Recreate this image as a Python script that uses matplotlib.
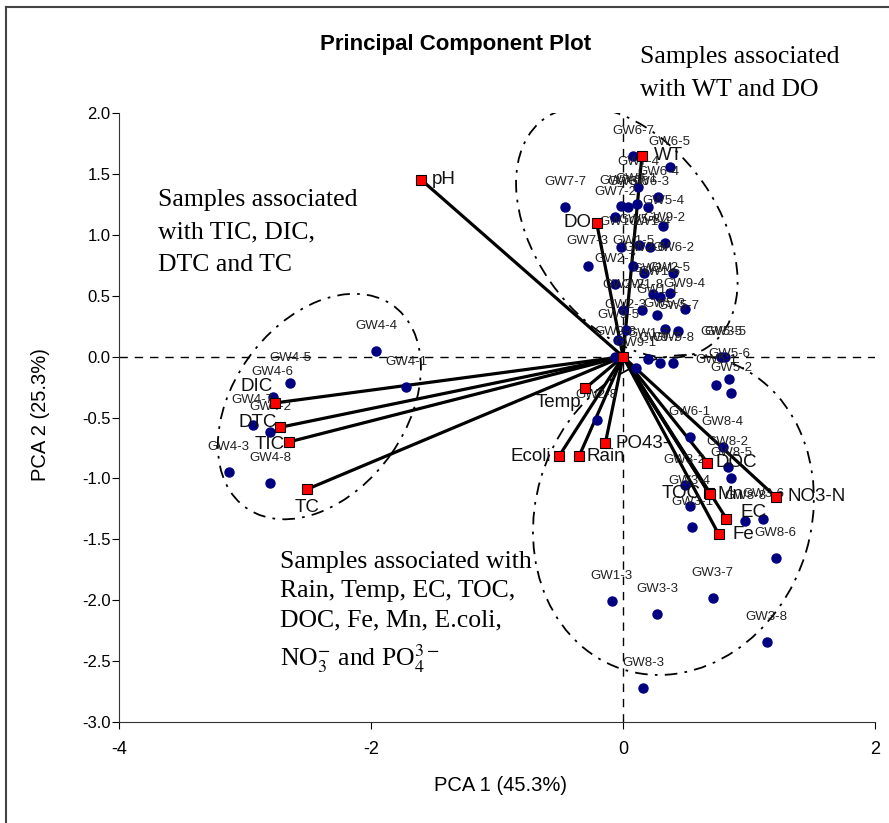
import numpy as np
import matplotlib
matplotlib.use("Agg")
import matplotlib.pyplot as plt
from matplotlib.patches import Ellipse
from matplotlib.lines import Line2D
from matplotlib.ticker import FormatStrFormatter

plt.rcParams["font.family"] = ["Liberation Sans", "DejaVu Sans"]
plt.rcParams["mathtext.fontset"] = "stix"
plt.rcParams["axes.unicode_minus"] = False

# variable loadings (PC1, PC2)
var_names = ["pH", "WT", "DO", "DIC", "DTC", "TIC", "TC", "Temp", "Ecoli",
             "Rain", "PO43-", "DOC", "TOC", "Mn", "NO3-N", "EC", "Fe"]
var_pc1 = [-1.60, 0.15, -0.21, -2.76, -2.72, -2.65, -2.51, -0.30, -0.51,
           -0.35, -0.14, 0.67, 0.68, 0.69, 1.21, 0.82, 0.76]
var_pc2 = [1.45, 1.65, 1.10, -0.38, -0.58, -0.70, -1.09, -0.26, -0.82,
           -0.82, -0.71, -0.87, -1.12, -1.13, -1.15, -1.33, -1.46]

# sample scores (PC1, PC2)
sample_names = [
    "GW4-4", "GW4-1", "GW4-5", "GW4-6", "GW4-7", "GW4-2", "GW4-3", "GW4-8",
    "GW6-7", "GW6-5", "GW7-4", "GW6-4", "GW7-7", "GW7-6", "GW6-6", "GW7-1",
    "GW6-3", "GW7-2", "GW5-4", "GW1-2", "GW5-8", "GW1-4", "GW9-2", "GW7-3",
    "GW1-5", "GW2-6", "GW6-2", "GW2-7", "GW2-1", "GW1-6", "GW2-5", "GW2-2",
    "GW1-8", "GW1-1", "GW9-4", "GW2-3", "GW5-3", "GW5-7", "GW9-5", "GW9-3",
    "GW1-7", "GW9-7", "GW9-8", "GW9-1",
    "GW5-5", "GW3-5", "GW5-6", "GW5-1", "GW5-2", "GW2-8", "GW6-1", "GW8-4",
    "GW8-2", "GW8-5", "GW3-2", "GW3-4", "GW3-1", "GW3-6", "GW8-8", "GW8-6",
    "GW1-3", "GW3-3", "GW3-7", "GW3-8", "GW8-3",
]
sample_pc1 = [
    -1.96, -1.72, -2.64, -2.78, -2.94, -2.80, -3.13, -2.80,
    0.08, 0.37, 0.12, 0.28, -0.46, -0.02, 0.04, 0.11,
    0.20, -0.06, 0.32, -0.02, 0.13, 0.21, 0.33, -0.28,
    0.08, 0.17, 0.40, -0.06, 0.24, 0.29, 0.37, 0.00,
    0.15, 0.27, 0.49, 0.02, 0.33, 0.44, -0.04, -0.06,
    0.20, 0.29, 0.40, 0.10,
    0.78, 0.81, 0.84, 0.74, 0.86, -0.21, 0.53, 0.79,
    0.83, 0.86, 0.49, 0.53, 0.55, 1.11, 0.97, 1.21,
    -0.09, 0.27, 0.71, 1.14, 0.16,
]
sample_pc2 = [
    0.05, -0.25, -0.22, -0.33, -0.56, -0.62, -0.95, -1.04,
    1.65, 1.56, 1.39, 1.31, 1.23, 1.24, 1.23, 1.25,
    1.23, 1.15, 1.07, 0.90, 0.92, 0.90, 0.93, 0.74,
    0.74, 0.69, 0.69, 0.60, 0.51, 0.49, 0.52, 0.38,
    0.38, 0.34, 0.39, 0.22, 0.23, 0.21, 0.14, 0.00,
    -0.02, -0.05, -0.05, -0.09,
    0.00, 0.00, -0.18, -0.23, -0.30, -0.52, -0.66, -0.74,
    -0.91, -1.00, -1.05, -1.23, -1.40, -1.33, -1.35, -1.65,
    -2.01, -2.11, -1.98, -2.34, -2.72,
]

# where each variable name sits relative to its square (pixels, alignment)
var_label_pos = {
    "pH": (10, 0, "left"), "WT": (12, 0, "left"), "DO": (-5, 0, "right"),
    "DIC": (-3, 16, "right"), "DTC": (-3, 5, "right"), "TIC": (-4, -3, "right"),
    "TC": (0, -18, "center"), "Temp": (-4, -14, "right"), "Ecoli": (-8, 0, "right"),
    "Rain": (8, 0, "left"), "PO43-": (10, 0, "left"), "DOC": (8, 0, "left"),
    "TOC": (-8, 0, "right"), "Mn": (8, 0, "left"), "NO3-N": (12, 0, "left"),
    "EC": (14, 6, "left"), "Fe": (14, 0, "left"),
}

fig = plt.figure(figsize=(8.89, 8.23), dpi=100)
ax = fig.add_axes([0.1339, 0.1227, 0.8504, 0.74])
ax.set_xlim(-4, 2)
ax.set_ylim(-3, 2)
ax.set_xticks([-4, -2, 0, 2])
ax.set_yticks(np.arange(-3, 2.01, 0.5))
ax.yaxis.set_major_formatter(FormatStrFormatter("%.1f"))
ax.tick_params(axis="x", labelsize=13, length=5, pad=9)
ax.tick_params(axis="y", labelsize=12, length=5, pad=1)
for side in ["top", "right"]:
    ax.spines[side].set_visible(False)
for side in ["left", "bottom"]:
    ax.spines[side].set_color("#333333")

ax.axhline(0, color="black", lw=1, ls=(0, (6, 5)), zorder=1)
ax.axvline(0, color="black", lw=1, ls=(0, (6, 5)), zorder=1)

# group outlines
groups = [((0.03, 1.02), 2.28, 1.46, -56),
          ((-2.41, -0.41), 2.03, 1.38, 56),
          ((0.40, -1.30), 2.66, 2.19, 74)]
for centre, w, h, ang in groups:
    ax.add_patch(Ellipse(centre, w, h, angle=ang, fill=False, color="black",
                         lw=1.3, ls=(0, (7, 4, 1.5, 4)), zorder=1))

# loading vectors
for x, y in zip(var_pc1, var_pc2):
    ax.plot([0, x], [0, y], color="black", lw=2.3, solid_capstyle="butt", zorder=2)

ax.plot(sample_pc1, sample_pc2, "o", ms=6.5, color="#000080", ls="none", zorder=3)
for name, x, y in zip(sample_names, sample_pc1, sample_pc2):
    ax.annotate(name, (x, y), xytext=(0, 25), textcoords="offset pixels",
                ha="center", va="center", fontsize=9.5, color="#222222", zorder=4)

ax.plot(var_pc1, var_pc2, "s", ms=7, mfc="#ff0000", mec="black", mew=0.8,
        ls="none", zorder=5)
ax.plot([0], [0], "s", ms=7, mfc="#ff0000", mec="black", mew=0.8, zorder=5)
for name, x, y in zip(var_names, var_pc1, var_pc2):
    dx, dy, ha = var_label_pos[name]
    ax.annotate(name, (x, y), xytext=(dx, dy), textcoords="offset pixels",
                ha=ha, va="center", fontsize=13.5, color="#111111", zorder=6)

fig.text(0.513, 0.9465, "Principal Component Plot", ha="center", va="center",
         fontsize=16, fontweight="bold")
fig.text(0.563, 0.046, "PCA 1 (45.3%)", ha="center", va="center", fontsize=14.5)
fig.text(0.045, 0.496, "PCA 2 (25.3%)", ha="center", va="center",
         fontsize=14.5, rotation=90)

serif = ["Liberation Serif", "DejaVu Serif"]
fig.text(0.72, 0.944, "Samples associated\nwith WT and DO", ha="left", va="top",
         fontsize=18.5, family=serif, linespacing=1.62)
fig.text(0.178, 0.770, "Samples associated\nwith TIC, DIC,\nDTC and TC",
         ha="left", va="top", fontsize=18.5, family=serif, linespacing=1.62)
fig.text(0.315, 0.331,
         "Samples associated with\nRain, Temp, EC, TOC,\nDOC, Fe, Mn, E.coli,\n"
         r"NO$_3^{-}$ and PO$_4^{3-}$",
         ha="left", va="top", fontsize=18.5, family=serif, linespacing=1.45)

# outer frame
fig.add_artist(Line2D([0.007, 0.007], [0, 0.991], color="#444444", lw=1.5))
fig.add_artist(Line2D([0.007, 1.0], [0.991, 0.991], color="#444444", lw=1.5))

fig.savefig("out.png", dpi=100)
